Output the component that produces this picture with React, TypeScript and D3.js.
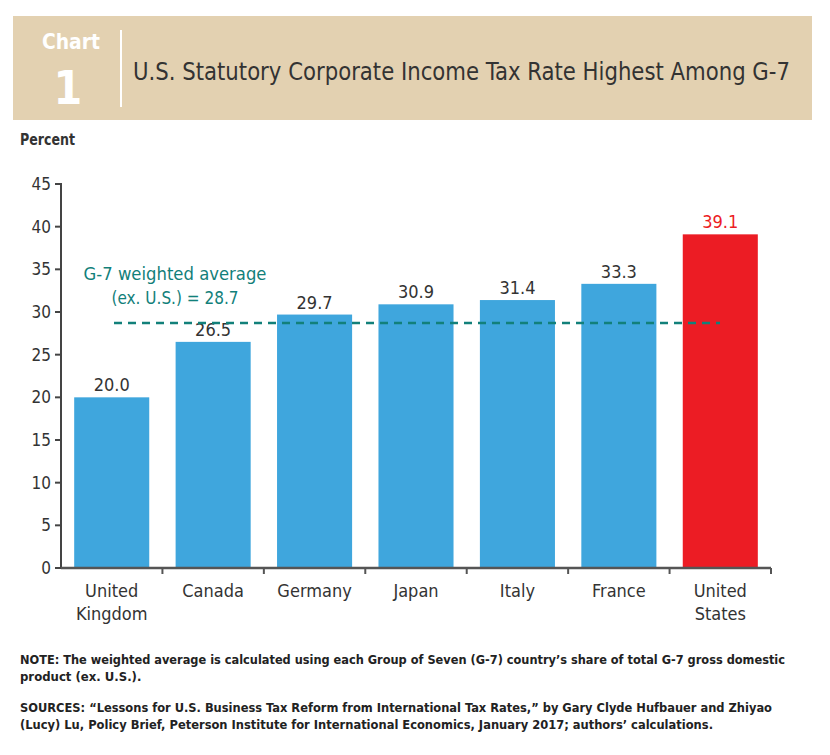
import React from "react";
import * as d3 from "d3";

const categories = ["United Kingdom", "Canada", "Germany", "Japan", "Italy", "France", "United States"];
const categoryLines = [["United", "Kingdom"], ["Canada"], ["Germany"], ["Japan"], ["Italy"], ["France"], ["United", "States"]];
const values = [20.0, 26.5, 29.7, 30.9, 31.4, 33.3, 39.1];
const yTicks = [0, 5, 10, 15, 20, 25, 30, 35, 40, 45];
const weightedAverage = 28.7;

const FONT = "'Liberation Sans Narrow', 'DejaVu Sans Condensed', 'Roboto Condensed', Arial, sans-serif";
const BLUE = "#3fa6dd";
const RED = "#ec1c24";
const TEAL = "#12807a";
const TEXT = "#333";

export default function App() {
  const W = 830, H = 755;
  const x0 = 61, x1 = 771, yTop = 184, yBot = 568;
  const x = d3.scaleBand<string>().domain(categories).range([x0, x1]).paddingInner(0.26).paddingOuter(0.13);
  const y = d3.scaleLinear().domain([0, 45]).range([yBot, yTop]);
  const boundaries = d3.range(categories.length + 1).map((i) => x0 + i * ((x1 - x0) / categories.length));

  return (
    <svg width={W} height={H} style={{ position: "absolute", left: 0, top: 0, background: "#fff" }} fontFamily={FONT}>
      {/* header */}
      <rect x={13} y={16} width={799} height={104} fill="#e3d1b1" />
      <text x={71} y={49} fill="#fff" fontSize={22} fontWeight="bold" textAnchor="middle" textLength={58} lengthAdjust="spacingAndGlyphs">Chart</text>
      <text x={68} y={104} fill="#fff" fontSize={46} fontWeight="bold" textAnchor="middle">1</text>
      <line x1={121} x2={121} y1={30} y2={107} stroke="#fff" strokeWidth={2} />
      <text x={133} y={80} fill="#333" fontSize={25} textLength={657} lengthAdjust="spacingAndGlyphs">U.S. Statutory Corporate Income Tax Rate Highest Among G-7</text>

      <text x={20} y={145} fill={TEXT} fontSize={15} fontWeight="bold" textLength={55} lengthAdjust="spacingAndGlyphs">Percent</text>

      {/* bars */}
      {categories.map((c, i) => (
        <rect key={c} x={x(c)} y={y(values[i])} width={x.bandwidth()} height={y(0) - y(values[i])}
          fill={i === categories.length - 1 ? RED : BLUE} />
      ))}
      {categories.map((c, i) => (
        <text key={c + "v"} x={(x(c) as number) + x.bandwidth() / 2} y={y(values[i]) - 6}
          textAnchor="middle" fontSize={18} fill={i === categories.length - 1 ? RED : TEXT}>
          {values[i].toFixed(1)}
        </text>
      ))}

      {/* average line */}
      <line x1={114} x2={720} y1={y(weightedAverage)} y2={y(weightedAverage)} stroke={TEAL}
        strokeWidth={2.5} strokeDasharray="8 6" />
      <text x={175} y={280} fill={TEAL} fontSize={17} textAnchor="middle" textLength={183} lengthAdjust="spacingAndGlyphs">G-7 weighted average</text>
      <text x={175} y={304} fill={TEAL} fontSize={17} textAnchor="middle">(ex. U.S.) = {weightedAverage.toFixed(1)}</text>

      {/* y axis */}
      <line x1={x0} x2={x0} y1={yTop - 1} y2={yBot + 1} stroke="#444" strokeWidth={2} />
      {yTicks.map((t) => (
        <g key={t}>
          <line x1={x0 - 6} x2={x0} y1={y(t)} y2={y(t)} stroke="#444" strokeWidth={2} />
          <text x={x0 - 10} y={y(t) + 6} textAnchor="end" fontSize={17} fill={TEXT}>{t}</text>
        </g>
      ))}

      {/* x axis */}
      <line x1={x0} x2={x1} y1={yBot} y2={yBot} stroke="#555" strokeWidth={2.5} />
      {boundaries.slice(1).map((b, i) => (
        <line key={i} x1={b} x2={b} y1={yBot} y2={yBot + 6} stroke="#555" strokeWidth={2} />
      ))}
      {categories.map((c, i) => (
        <text key={c + "l"} x={(x(c) as number) + x.bandwidth() / 2} textAnchor="middle" fontSize={18} fill={TEXT}>
          {categoryLines[i].map((ln, j) => (
            <tspan key={j} x={(x(c) as number) + x.bandwidth() / 2} y={597 + j * 23}>{ln}</tspan>
          ))}
        </text>
      ))}

      {/* notes */}
      <g fontSize={13} fill="#222" fontWeight="bold">
        <text x={20} y={664} textLength={765} lengthAdjust="spacingAndGlyphs">NOTE: The weighted average is calculated using each Group of Seven (G-7) country’s share of total G-7 gross domestic</text>
        <text x={20} y={681}>product (ex. U.S.).</text>
        <text x={20} y={712} textLength={752} lengthAdjust="spacingAndGlyphs">SOURCES: “Lessons for U.S. Business Tax Reform from International Tax Rates,” by Gary Clyde Hufbauer and Zhiyao</text>
        <text x={20} y={729} textLength={693} lengthAdjust="spacingAndGlyphs">(Lucy) Lu, Policy Brief, Peterson Institute for International Economics, January 2017; authors’ calculations.</text>
      </g>
    </svg>
  );
}
